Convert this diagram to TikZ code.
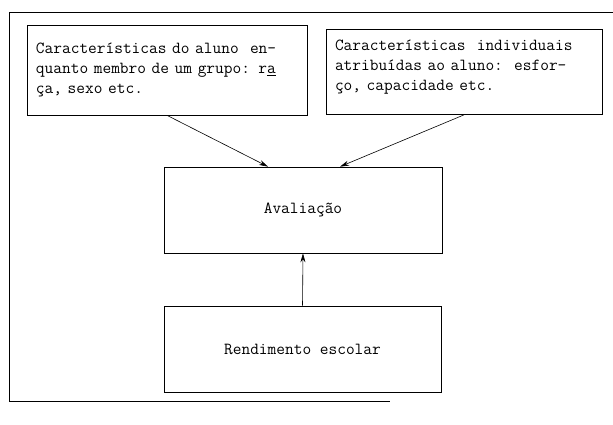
\documentclass[tikz,border=0pt]{standalone}
\usepackage{fontspec}
\usetikzlibrary{arrows.meta,calc}
\tikzset{
  box/.style={draw, line width=0.7bp, inner xsep=9bp, inner ysep=0bp, align=left,
    font=\ttfamily\fontsize{16.9bp}{20bp}\selectfont},
  arr/.style={line width=0.6bp, -{Stealth[length=9bp,width=5bp]}},
  frame/.style={line width=0.7bp}
}
\begin{document}
\begin{tikzpicture}[x=1bp,y=-1bp]
\useasboundingbox (0,0) rectangle (613,424);
% outer frame (open on the right)
\draw[frame] (613,12) -- (9,12) -- (9,401) -- (390,401);
% boxes
\node[box, text width=262bp, minimum height=90bp] (c1) at (167,70)
  {Características do aluno\ \ en-\\quanto membro de um grupo: r\underline{a}\\ça, sexo etc.};
\node[box, text width=258bp, minimum height=85bp] (c2) at (464,72)
  {Características\ \ individuais\\atribuídas ao aluno:\ \ esfor-\\ço, capacidade etc.\\[-6bp]\mbox{}};
\node[box, minimum width=278bp, minimum height=86bp, align=center] (av) at (303,210) {Avaliação};
\node[box, minimum width=277bp, minimum height=86bp, align=center] (re) at (302.5,349) {Rendimento escolar};
% connectors
\coordinate (t1) at ($(av.north)+(-35,0)$);
\coordinate (t2) at ($(av.north)+(37,0)$);
\draw[arr] (c1.south) -- (t1);
\draw[arr] (c2.south) -- (t2);
\draw[arr] (re.north) -- (av.south);
\end{tikzpicture}
\end{document}
